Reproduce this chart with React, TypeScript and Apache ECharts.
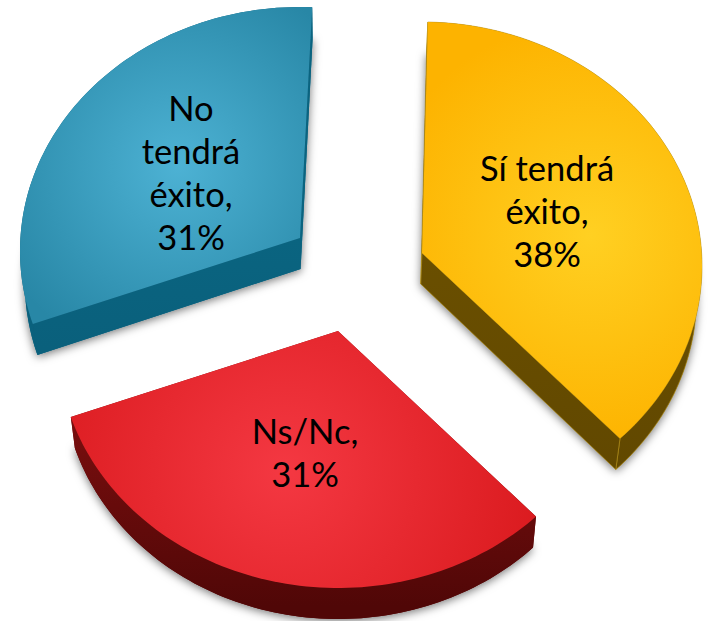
import React, { useEffect, useRef } from "react";
import * as echarts from "echarts";

const names = ["Sí tendrá\néxito", "Ns/Nc", "No\ntendrá\néxito"];
const values = [38, 31, 31];
const topInner = ["#FFD022", "#F43842", "#4DB2D4"];
const topOuter = ["#FDB300", "#DA1A1E", "#2887A6"];
const sideNear = ["#6A4F00", "#8E1212", "#0A6480"];
const sideFar = ["#5F4600", "#500707", "#0A5A76"];

// pie view
const RX = 280, RY = 244, CY_SHIFT = 13, DEPTH = 31;
const tips = [[422, 253], [338, 331], [300, 238]];
const glow = [[590, 235, 215], [285, 470, 265], [178, 165, 200]];
const labelAt = [[547, 210], [305, 452], [191, 172]];
// small correction of each wedge's two cut edges, degrees
const edgeTrim = [[-0.8, 0], [0, 0], [0, 0.5]];

const rad = (d: number) => (d * Math.PI) / 180;
// ellipse parameter for a clockwise data angle (view's foreshortening)
const viewAngle = (d: number) => d + 2 + 0.88 * Math.sin(rad(d)) + 4.41 * Math.sin(rad(2 * d));
const rim = (t: number) => [RX * Math.sin(rad(t)), CY_SHIFT - RY * Math.cos(rad(t))];
const drop = (p: number[]) => [p[0] + (340 - p[0]) * 0.015, p[1] + DEPTH];

const total = values.reduce((a, b) => a + b, 0);

function renderSlice(params: any) {
  const i = params.dataIndex;
  const before = values.slice(0, i).reduce((a, b) => a + b, 0);
  const a0 = (before / total) * 360;
  const a1 = ((before + values[i]) / total) * 360;
  const [tx, ty] = tips[i];
  const arc: number[][] = [];
  const steps = 90;
  for (let k = 0; k <= steps; k++) {
    const f = k / steps;
    const trim = edgeTrim[i][0] * (1 - f) + edgeTrim[i][1] * f;
    const r = rim(viewAngle(a0 + (a1 - a0) * f) + trim);
    arc.push([tx + r[0], ty + r[1]]);
  }
  const tip = [tx, ty];
  const top = [tip, ...arc];
  const base = top.map(drop);
  const arcLow = arc.map(drop);
  const sideFill = new echarts.graphic.LinearGradient(0, ty, 0, ty + RY + DEPTH, [
    { offset: 0, color: sideNear[i] },
    { offset: 1, color: sideFar[i] },
  ], true);
  const edge = i === 0 ? "#B8961E" : "none";
  const g = glow[i];
  return {
    type: "group",
    children: [
      {
        type: "polygon",
        shape: { points: base },
        style: { fill: sideFar[i], shadowBlur: 10, shadowColor: "rgba(0,0,0,0.55)", shadowOffsetX: 0, shadowOffsetY: 2 },
      },
      {
        type: "polygon",
        shape: { points: [...arc, ...arcLow.slice().reverse()] },
        style: { fill: sideFill, stroke: edge, lineWidth: 0.6 },
      },
      {
        type: "polygon",
        shape: { points: [tip, arc[0], arcLow[0], drop(tip)] },
        style: { fill: sideFill, stroke: edge, lineWidth: 0.6 },
      },
      {
        type: "polygon",
        shape: { points: [tip, arc[steps], arcLow[steps], drop(tip)] },
        style: { fill: sideFill, stroke: edge, lineWidth: 0.6 },
      },
      {
        type: "polygon",
        shape: { points: top },
        style: {
          fill: new echarts.graphic.RadialGradient(g[0], g[1], g[2], [
            { offset: 0, color: topInner[i] },
            { offset: 1, color: topOuter[i] },
          ], true),
        },
      },
      {
        type: "text",
        style: {
          text: `${names[i]},\n${values[i]}%`,
          x: labelAt[i][0],
          y: labelAt[i][1],
          fill: "#000",
          fontFamily: "Lato",
          fontSize: 34.5,
          lineHeight: 43,
          textAlign: "center",
          textVerticalAlign: "middle",
        },
      },
    ],
  };
}

export default function App() {
  const ref = useRef<HTMLDivElement>(null);
  useEffect(() => {
    document.body.style.margin = "0";
    const chart = echarts.init(ref.current!, null, { renderer: "svg" });
    chart.setOption({
      animation: false,
      backgroundColor: "#fff",
      series: [
        {
          type: "custom",
          coordinateSystem: "none",
          data: values.map((v, i) => ({ name: names[i], value: v })),
          renderItem: renderSlice,
          silent: true,
        },
      ],
    });
    return () => chart.dispose();
  }, []);
  return <div ref={ref} style={{ width: 708, height: 621 }} />;
}
